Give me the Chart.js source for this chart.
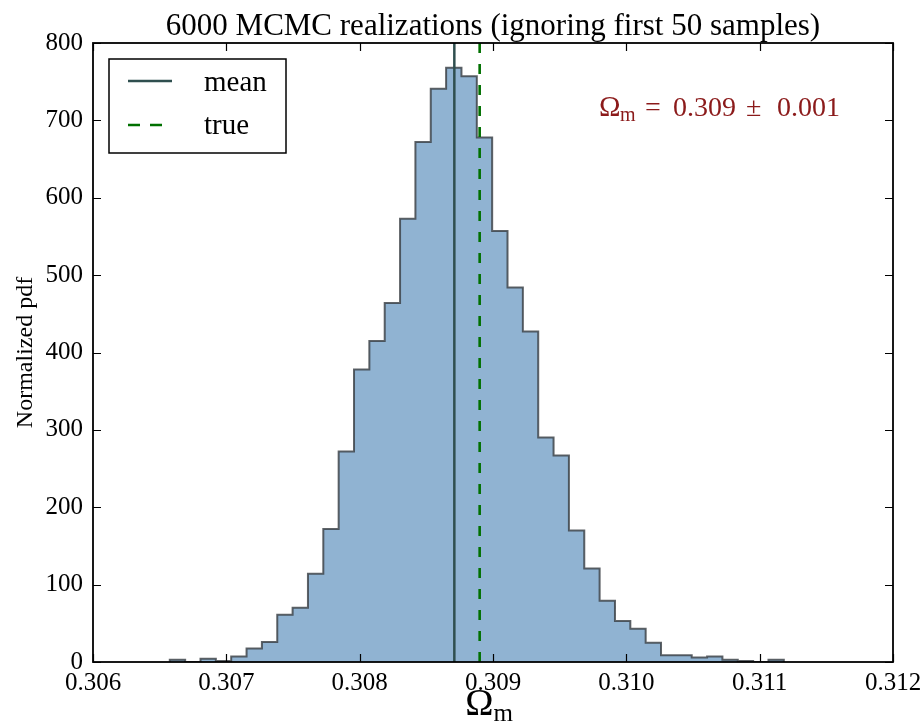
<!DOCTYPE html>
<html>
<head>
<meta charset="utf-8">
<script src="https://cdn.jsdelivr.net/npm/chart.js@4/dist/chart.umd.min.js"></script>
<style>
  html, body { margin: 0; padding: 0; background: #fff; }
  #wrap { width: 921px; height: 723px; }
</style>
</head>
<body>
<div id="wrap"><canvas id="myCanvas" width="921" height="723"></canvas></div>
<script>
// histogram of Omega_m from the MCMC chain (normalized pdf per bin)
const binStart = 0.306576;
const binWidth = 0.00011513;
const pdfValues = [
    2.9, 0, 4.3, 1.4, 7.2, 17.4, 26, 61, 70, 114,
    172, 272, 378, 415, 464, 573, 672, 741, 768, 757,
    678, 557, 484, 427, 290, 267, 170, 121, 79, 53,
    43, 25, 8.7, 8.7, 5.8, 7.2, 2.9, 1.4, 0, 2.9
];

const meanValue = 0.30871;
const trueValue = 0.3089;

const xTicks = [0.306, 0.307, 0.308, 0.309, 0.310, 0.311, 0.312];
const yTicks = [0, 100, 200, 300, 400, 500, 600, 700, 800];

const titleText = "6000 MCMC realizations (ignoring first 50 samples)";
const serif = "'Liberation Serif', 'Times New Roman', serif";

// step outline: rise at first edge, one point per bin edge, drop at last edge
// (stepped "before": horizontal at the previous value, then vertical)
const histPoints = [{ x: binStart, y: 0 }];
pdfValues.forEach((v, i) => {
    histPoints.push({ x: binStart + i * binWidth, y: v });
});
histPoints.push({ x: binStart + pdfValues.length * binWidth, y: 0 });

// draws frame, inward ticks, title, legend and the text labels
const overlay = {
    id: "overlay",
    afterDraw(chart) {
        const ctx = chart.ctx;
        const a = chart.chartArea;
        const x = chart.scales.x;
        const y = chart.scales.y;
        ctx.save();

        ctx.strokeStyle = "#000";
        ctx.lineWidth = 1.2;
        xTicks.forEach((t) => {
            const px = Math.round(x.getPixelForValue(t)) + 0.5;
            ctx.beginPath();
            ctx.moveTo(px, a.bottom); ctx.lineTo(px, a.bottom - 8);
            ctx.moveTo(px, a.top); ctx.lineTo(px, a.top + 8);
            ctx.stroke();
        });
        yTicks.forEach((t) => {
            const py = Math.round(y.getPixelForValue(t)) + 0.5;
            ctx.beginPath();
            ctx.moveTo(a.left, py); ctx.lineTo(a.left + 8, py);
            ctx.moveTo(a.right, py); ctx.lineTo(a.right - 8, py);
            ctx.stroke();
        });

        ctx.lineWidth = 1.8;
        ctx.strokeRect(a.left, a.top, a.right - a.left, a.bottom - a.top);

        // title
        ctx.fillStyle = "#000";
        ctx.textBaseline = "alphabetic";
        ctx.textAlign = "center";
        ctx.font = "31px " + serif;
        ctx.fillText(titleText, (a.left + a.right) / 2, 35);

        // legend box
        ctx.fillStyle = "#fff";
        ctx.fillRect(109, 59, 177, 94);
        ctx.lineWidth = 1.5;
        ctx.strokeStyle = "#000";
        ctx.strokeRect(109, 59, 177, 94);

        ctx.lineWidth = 2.5;
        ctx.strokeStyle = "#2f4f4f";
        ctx.beginPath();
        ctx.moveTo(128, 81); ctx.lineTo(172, 81);
        ctx.stroke();

        ctx.strokeStyle = "#007000";
        ctx.setLineDash([12, 10]);
        ctx.beginPath();
        ctx.moveTo(128, 125); ctx.lineTo(162, 125);
        ctx.stroke();
        ctx.setLineDash([]);

        ctx.fillStyle = "#000";
        ctx.textAlign = "left";
        ctx.font = "29px " + serif;
        ctx.fillText("mean", 204, 91);
        ctx.fillText("true", 204, 134);

        // fitted value, spaced like a math expression
        ctx.fillStyle = "#8b1a1a";
        ctx.font = "29px " + serif;
        ctx.fillText("\u03a9", 599, 116);
        ctx.font = "20px " + serif;
        ctx.fillText("m", 620, 121);
        ctx.font = "28px " + serif;
        ctx.fillText("=", 645, 116);
        ctx.fillText("0.309", 673, 116);
        ctx.fillText("\u00b1", 746, 116);
        ctx.fillText("0.001", 777, 116);

        // x axis label
        ctx.fillStyle = "#000";
        ctx.font = "38px " + serif;
        const omegaW = ctx.measureText("\u03a9").width;
        ctx.font = "25px " + serif;
        const subW = ctx.measureText("m").width;
        const lx = (a.left + a.right) / 2 - (omegaW + subW) / 2 - 4;
        ctx.font = "38px " + serif;
        ctx.fillText("\u03a9", lx, 715);
        ctx.font = "25px " + serif;
        ctx.fillText("m", lx + omegaW, 721);

        ctx.restore();
    }
};

const ctx = document.getElementById("myCanvas").getContext("2d");

new Chart(ctx, {
    type: "line",
    data: {
        datasets: [
            {
                label: "mean",
                data: [{ x: meanValue, y: 0 }, { x: meanValue, y: 800 }],
                borderColor: "#2f4f4f",
                borderWidth: 2.5,
                pointRadius: 0,
                fill: false,
            },
            {
                label: "true",
                data: [{ x: trueValue, y: 0 }, { x: trueValue, y: 800 }],
                borderColor: "#007000",
                borderWidth: 2.6,
                borderDash: [10, 11],
                pointRadius: 0,
                fill: false,
            },
            {
                label: "hist",
                data: histPoints,
                stepped: "before",
                borderColor: "rgba(55, 60, 65, 0.8)",
                borderWidth: 2,
                backgroundColor: "rgb(144, 179, 210)",
                pointRadius: 0,
                fill: "origin",
            },
        ],
    },
    options: {
        responsive: false,
        animation: false,
        layout: { padding: { top: 43, right: 28, left: 0, bottom: 0 } },
        plugins: {
            legend: { display: false },
            tooltip: { enabled: false },
            title: { display: false },
        },
        scales: {
            x: {
                type: "linear",
                min: 0.306,
                max: 0.312,
                afterFit: (s) => {
                    s.height = 61;
                    s.paddingLeft = 0;
                    s.paddingRight = 0;
                },
                afterBuildTicks: (s) => { s.ticks = xTicks.map((v) => ({ value: v })); },
                grid: { display: false, drawTicks: false },
                border: { display: false },
                ticks: {
                    autoSkip: false,
                    maxRotation: 0,
                    padding: 6,
                    color: "#000",
                    font: { family: serif, size: 25 },
                    callback: (v) => v.toFixed(3),
                },
            },
            y: {
                min: 0,
                max: 800,
                afterFit: (s) => {
                    s.width = 93;
                    s.paddingTop = 0;
                    s.paddingBottom = 0;
                },
                afterBuildTicks: (s) => { s.ticks = yTicks.map((v) => ({ value: v })); },
                grid: { display: false, drawTicks: false },
                border: { display: false },
                title: {
                    display: true,
                    text: "Normalized pdf",
                    color: "#000",
                    font: { family: serif, size: 24 },
                    padding: { top: 11, bottom: 4 },
                },
                ticks: {
                    padding: 10,
                    color: "#000",
                    font: { family: serif, size: 25 },
                },
            },
        },
    },
    plugins: [overlay],
});
</script>
</body>
</html>
